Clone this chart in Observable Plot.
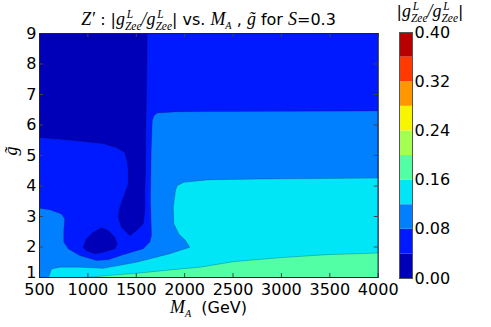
<!DOCTYPE html>
<html><head><meta charset="utf-8">
<script src="https://cdn.jsdelivr.net/npm/d3@7"></script>
<script src="https://cdn.jsdelivr.net/npm/@observablehq/plot@0.6"></script>
<style>
body{margin:0;background:#fff;font-family:"DejaVu Sans",sans-serif;}
#wrap{position:relative;width:491px;height:327px;overflow:hidden}
.abs{position:absolute;white-space:nowrap;font-size:16px;line-height:20px;color:#000;text-align:center}
.m{font-family:"Liberation Serif",serif;font-style:italic;font-size:1.12em}
.mi{font-family:"Liberation Serif",serif;font-style:italic}
.ss{position:relative;display:inline-block;font-size:0.64em;line-height:0.9}
.ss .sub{position:relative;top:0.4em}
.ss .sup{position:absolute;left:0.15em;top:-0.58em}
</style></head><body><div id="wrap"></div>
<script>
// axis ticks
const MA_TICKS = [500, 1000, 1500, 2000, 2500, 3000, 3500, 4000];
const G_TICKS = [1, 2, 3, 4, 5, 6, 7, 8, 9];
// contour levels and colours (jet, 10 bands)
const LEVELS = [0, 0.04, 0.08, 0.12, 0.16, 0.20, 0.24, 0.28, 0.32, 0.36, 0.40];
const CBAR_TICKS = [0, 0.08, 0.16, 0.24, 0.32, 0.40];
const BAND_COLORS = ["#0000b9", "#001aff", "#0080ff", "#00e6f7", "#52ffa4",
                     "#a4ff52", "#f7f500", "#ff9700", "#ff3900", "#b90000"];

// contour region outlines: [M_A (GeV), g~]
// band 0.00–0.04 (upper-left region)
const NAVY_MAIN = [[500,9],[1613,9],[1606,7.22],[1598,5.81],[1595,4.50],[1588,3.85],[1588,3.19],
  [1572,2.76],[1502,2.54],[1433,2.37],[1399,2.48],[1347,2.65],[1313,2.97],[1330,3.30],[1381,3.74],
  [1417,4.07],[1417,4.50],[1406,4.83],[1381,5.10],[1296,5.26],[1158,5.39],[813,5.51],[500,5.59]];
// band 0.00–0.04 (island)
const NAVY_ISLAND = [[952,1.99],[986,2.27],[1055,2.48],[1141,2.63],[1210,2.54],[1278,2.32],
  [1303,2.10],[1278,1.94],[1158,1.83],[1071,1.78],[986,1.88]];
// value >= 0.08
const BAND2_AREA = [[500,3.27],[606,3.22],[727,3.08],[761,2.92],[751,2.54],[751,2.16],[797,1.94],
  [916,1.72],[1089,1.56],[1210,1.58],[1365,1.75],[1572,1.94],[1640,2.16],[1657,2.37],[1647,3.52],
  [1654,5.16],[1665,6.14],[1681,6.30],[1716,6.39],[1888,6.43],[2233,6.44],[4000,6.46],[4000,1],[500,1]];
// value >= 0.12
const CYAN_AREA = [[593,1],[624,1.28],[710,1.34],[916,1.34],[1158,1.30],[1502,1.50],[1847,1.78],
  [2053,1.99],[2009,2.21],[1940,2.43],[1888,2.76],[1882,3.30],[1905,3.85],[1923,4.01],[1991,4.12],
  [2233,4.20],[2784,4.23],[4000,4.26],[4000,1]];
// value >= 0.16
const GREEN_AREA = [[975,1],[1234,1.07],[1544,1.15],[1854,1.25],[2164,1.34],[2505,1.52],
  [2990,1.65],[3476,1.75],[4000,1.80],[4000,1]];

const REGIONS = [
  {pts: NAVY_MAIN, color: BAND_COLORS[0]},
  {pts: NAVY_ISLAND, color: BAND_COLORS[0]},
  {pts: BAND2_AREA, color: BAND_COLORS[2]},
  {pts: CYAN_AREA, color: BAND_COLORS[3]},
  {pts: GREEN_AREA, color: BAND_COLORS[4]}
];

const W = 390, H = 327, ML = 39, MR = 12.3, MT = 33, MB = 50;
const PW = W - ML - MR, PH = H - MT - MB, TL = 4;

const wrap = document.getElementById("wrap");

const main = Plot.plot({
  width: W, height: H,
  marginLeft: ML, marginRight: MR, marginTop: MT, marginBottom: MB,
  style: {fontFamily: "DejaVu Sans", fontSize: "16px", color: "#000", background: "transparent", overflow: "visible"},
  x: {domain: [500, 4000], label: null},
  y: {domain: [1, 9], label: null},
  marks: [
    Plot.frame({fill: BAND_COLORS[1]}),
    ...REGIONS.map(r => Plot.line(r.pts, {x: d => d[0], y: d => d[1], curve: "linear-closed",
      fill: r.color, stroke: "#000", strokeOpacity: 0.3, strokeWidth: 0.7, clip: true})),
    Plot.axisX({ticks: MA_TICKS, tickFormat: d => String(d), tickSize: 0, tickPadding: 6, fontSize: 16}),
    Plot.axisY({ticks: G_TICKS.slice(1), tickFormat: d => String(d), tickSize: 0, tickPadding: 3, fontSize: 16}),
    Plot.axisY({ticks: G_TICKS.slice(0, 1), tickFormat: d => String(d), tickSize: 0, tickPadding: 3, fontSize: 16, dy: -5}),
    Plot.tickX(MA_TICKS, {x: d => d, insetTop: PH - TL, stroke: "#444"}),
    Plot.tickX(MA_TICKS, {x: d => d, insetBottom: PH - TL, stroke: "#444"}),
    Plot.tickY(G_TICKS, {y: d => d, insetRight: PW - TL, stroke: "#444"}),
    Plot.tickY(G_TICKS, {y: d => d, insetLeft: PW - TL, stroke: "#444"}),
    Plot.frame({stroke: "#222"}),
    Plot.text(["g\u0303"], {frameAnchor: "left", rotate: -90, dx: -28, fontSize: 18,
      fontFamily: "Liberation Serif", fontStyle: "italic"})
  ]
});
main.style.position = "absolute"; main.style.left = "0px"; main.style.top = "0px";
wrap.appendChild(main);

const bands = BAND_COLORS.map((c, i) => ({lo: LEVELS[i], hi: LEVELS[i + 1], c}));
const cbar = Plot.plot({
  width: 92, height: 327, marginLeft: 0, marginRight: 79, marginTop: 32, marginBottom: 49,
  style: {fontFamily: "DejaVu Sans", fontSize: "16px", color: "#000", background: "transparent", overflow: "visible"},
  color: {type: "identity"},
  y: {domain: [0, 0.4], label: null},
  marks: [
    Plot.rect(bands, {y1: "lo", y2: "hi", fill: "c"}),
    Plot.axisY({anchor: "right", ticks: CBAR_TICKS, tickFormat: d => d.toFixed(2), tickSize: 0, tickPadding: 2, fontSize: 16}),
    Plot.frame({stroke: "#555"})
  ]
});
cbar.style.position = "absolute"; cbar.style.left = "399px"; cbar.style.top = "0px";
wrap.appendChild(cbar);

const gz = '<span class="mi">g</span><span class="ss"><span class="sub mi">Zee</span><span class="sup mi">L</span></span>';
function addText(html, left, top, width) {
  const d = document.createElement("div");
  d.className = "abs";
  d.style.left = left + "px"; d.style.top = top + "px"; d.style.width = width + "px";
  d.innerHTML = html;
  wrap.appendChild(d);
}
addText('<span class="m">Z\u2032</span> : |<span style="font-size:1.12em">' + gz + '<span class="mi">/</span>' + gz +
  '</span>| vs. <span class="m">M</span><span class="ss"><span class="sub mi">A</span></span> , <span class="m">g\u0303</span> for <span class="m">S</span>=0.3',
  0, 9, 417);
addText('<span class="m">M</span><span class="ss"><span class="sub mi">A</span></span>&nbsp; (GeV)', 0, 297, 417);
addText('|<span style="font-size:1.12em">' + gz + '<span class="mi">/</span>' + gz + '</span>|', 370, 1, 120);
</script></body></html>
